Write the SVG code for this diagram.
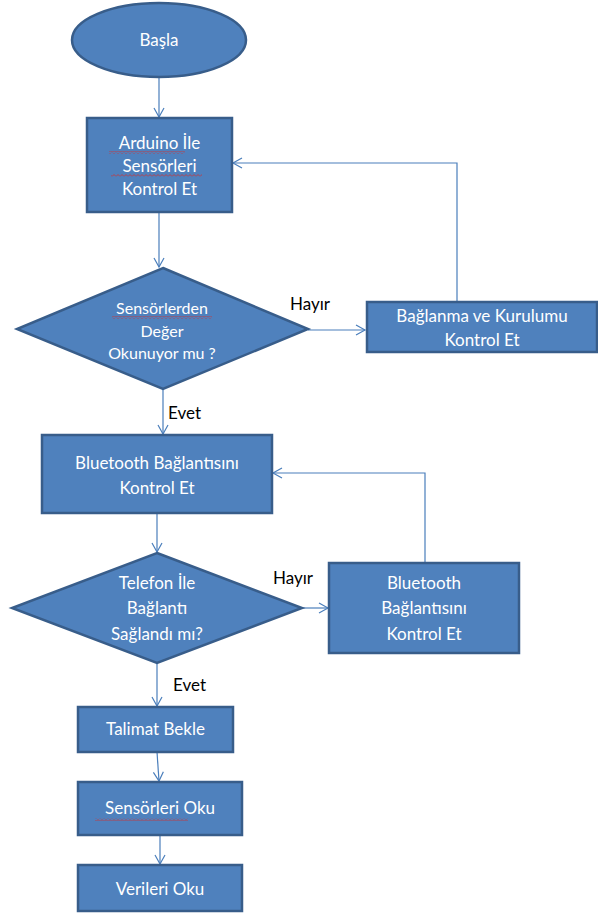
<svg xmlns="http://www.w3.org/2000/svg" width="598" height="913" viewBox="0 0 598 913">
<style>
.n{fill:#4F81BD;stroke:#385D8A;stroke-width:2.5}
.t{font-family:Lato,"Open Sans","Liberation Sans",sans-serif;font-size:17px;fill:#fff;text-anchor:middle}
.d{font-size:16px}
.l{font-family:Lato,"Open Sans","Liberation Sans",sans-serif;font-size:17px;fill:#000}
.c{fill:none;stroke:#4A7EBB;stroke-width:1.2}
.sq{fill:url(#sq)}
</style>
<defs>
<marker id="a" markerWidth="12" markerHeight="12" refX="10" refY="6" orient="auto" markerUnits="userSpaceOnUse">
<path d="M1,1 L10,6 L1,11" fill="none" stroke="#4A7EBB" stroke-width="1.2"/>
</marker>
<pattern id="sq" width="4" height="3" patternUnits="userSpaceOnUse">
<path d="M0,2.5 L2,0.5 L4,2.5" fill="none" stroke="#D03030" stroke-width="0.8"/>
</pattern>
</defs>
<rect width="598" height="913" fill="#fff"/>
<g id="connectors">
<path class="c" d="M159,78 V117" marker-end="url(#a)"/>
<path class="c" d="M159,212 V267" marker-end="url(#a)"/>
<path class="c" d="M308,330 H365" marker-end="url(#a)"/>
<path class="c" d="M457,302 V163 H233" marker-end="url(#a)"/>
<path class="c" d="M163,389 V434" marker-end="url(#a)"/>
<path class="c" d="M157,513 V552" marker-end="url(#a)"/>
<path class="c" d="M302,608 H328" marker-end="url(#a)"/>
<path class="c" d="M425,563 V473 H273" marker-end="url(#a)"/>
<path class="c" d="M157,663 V706" marker-end="url(#a)"/>
<path class="c" d="M157,752 L159,781" marker-end="url(#a)"/>
<path class="c" d="M160,835 V864" marker-end="url(#a)"/>
<text class="l" x="290" y="310">Hayır</text>
<text class="l" x="168" y="419">Evet</text>
<text class="l" x="273" y="584">Hayır</text>
<text class="l" x="173" y="691">Evet</text>
</g>
<g id="basla">
<ellipse class="n" cx="159" cy="40" rx="87" ry="37"/>
<text class="t" x="159" y="46">Başla</text>
</g>
<g id="arduino">
<rect class="n" x="87" y="118" width="145" height="94"/>
<text class="t" x="159.5" y="149">Arduino İle</text>
<text class="t" x="159.5" y="172">Sensörleri</text>
<text class="t" x="159.5" y="195">Kontrol Et</text>
<rect class="sq" x="109" y="151" width="76" height="3"/>
<rect class="sq" x="111" y="174" width="91" height="3"/>
</g>
<g id="karar1">
<polygon class="n" points="163,268 308,329 163,389 17,329"/>
<text class="t d" x="162" y="314">Sensörlerden</text>
<text class="t d" x="162" y="337">Değer</text>
<text class="t d" x="162" y="359">Okunuyor mu ?</text>
<rect class="sq" x="112" y="316" width="100" height="3"/>
</g>
<g id="baglanma">
<rect class="n" x="367" y="302" width="230" height="50"/>
<text class="t" x="482" y="322">Bağlanma ve Kurulumu</text>
<text class="t" x="482" y="346">Kontrol Et</text>
</g>
<g id="bluetooth1">
<rect class="n" x="42" y="435" width="230" height="78"/>
<text class="t" x="157" y="469">Bluetooth Bağlantısını</text>
<text class="t" x="157" y="494">Kontrol Et</text>
</g>
<g id="karar2">
<polygon class="n" points="157,553 302,608 157,663 12,608"/>
<text class="t" x="157" y="589">Telefon İle</text>
<text class="t" x="157" y="614">Bağlantı</text>
<text class="t" x="157" y="640">Sağlandı mı?</text>
</g>
<g id="bluetooth2">
<rect class="n" x="329" y="563" width="190" height="90"/>
<text class="t" x="424" y="589">Bluetooth</text>
<text class="t" x="424" y="614">Bağlantısını</text>
<text class="t" x="424" y="640">Kontrol Et</text>
</g>
<g id="talimat">
<rect class="n" x="78" y="707" width="155" height="45"/>
<text class="t" x="155.5" y="735">Talimat Bekle</text>
</g>
<g id="sensorleri">
<rect class="n" x="78" y="782" width="164" height="53"/>
<text class="t" x="160" y="814">Sensörleri Oku</text>
<rect class="sq" x="95" y="818" width="93" height="3"/>
</g>
<g id="verileri">
<rect class="n" x="78" y="865" width="164" height="46"/>
<text class="t" x="160" y="895">Verileri Oku</text>
</g>
</svg>
